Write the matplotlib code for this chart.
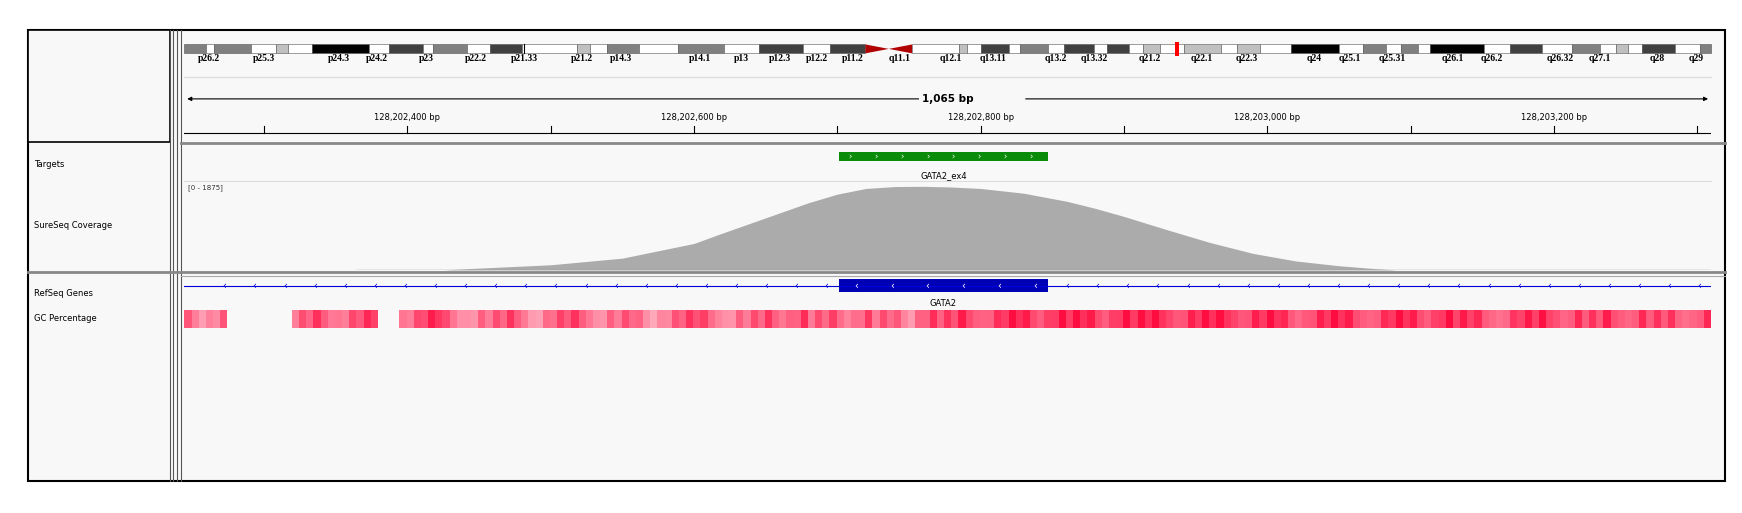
import numpy as np
import matplotlib.pyplot as plt
from matplotlib.patches import Rectangle, Polygon

W, H = 1568, 461.7   # layout units (figure is 1742x513 px)
START, END = 128202244.5, 128203309.5

# cytobands (extent along ideogram, colour)
bands = [(166, 185, '#808080'), (185, 193, 'w'), (193, 226, '#808080'), (226, 248, 'w'),
         (248, 259, '#c0c0c0'), (259, 281, 'w'), (281, 332, '#000000'), (332, 350, 'w'),
         (350, 381, '#404040'), (381, 390, 'w'), (390, 420, '#808080'), (420, 441, 'w'),
         (441, 470, '#404040'), (470, 519, 'w'), (519, 531, '#c0c0c0'), (531, 546, 'w'),
         (546, 575, '#808080'), (575, 610, 'w'), (610, 652, '#808080'), (652, 683, 'w'),
         (683, 723, '#404040'), (723, 747, 'w'), (747, 779, '#404040'),
         (821, 863, 'w'), (863, 870, '#c0c0c0'), (870, 883, 'w'), (883, 908, '#404040'),
         (908, 918, 'w'), (918, 943, '#808080'), (943, 958, 'w'), (958, 985, '#404040'),
         (985, 996, 'w'), (996, 1016, '#404040'), (1016, 1029, 'w'), (1029, 1044, '#c0c0c0'),
         (1044, 1066, 'w'), (1066, 1099, '#c0c0c0'), (1099, 1113, 'w'), (1113, 1134, '#c0c0c0'),
         (1134, 1162, 'w'), (1162, 1205, '#000000'), (1205, 1227, 'w'), (1227, 1248, '#808080'),
         (1248, 1261, 'w'), (1261, 1276, '#808080'), (1276, 1287, 'w'), (1287, 1336, '#000000'),
         (1336, 1359, 'w'), (1359, 1388, '#404040'), (1388, 1415, 'w'), (1415, 1440, '#808080'),
         (1440, 1455, 'w'), (1455, 1465, '#c0c0c0'), (1465, 1478, 'w'), (1478, 1508, '#404040'),
         (1508, 1530, 'w'), (1530, 1540, '#808080')]
band_labels = ['p26.2', 'p25.3', 'p24.3', 'p24.2', 'p23', 'p22.2', 'p21.33', 'p21.2', 'p14.3',
               'p14.1', 'p13', 'p12.3', 'p12.2', 'p11.2', 'q11.1', 'q12.1', 'q13.11', 'q13.2',
               'q13.32', 'q21.2', 'q22.1', 'q22.3', 'q24', 'q25.1', 'q25.31', 'q26.1', 'q26.2',
               'q26.32', 'q27.1', 'q28', 'q29']
band_label_x = [188, 238, 305, 339, 384, 428, 472, 524, 559, 630, 667, 702, 735, 768, 810, 856,
                894, 950, 985, 1035, 1082, 1122, 1183, 1215, 1253, 1308, 1343, 1404, 1440, 1492, 1527]

ruler_ticks = [128202400, 128202600, 128202800, 128203000, 128203200]

# coverage (bp position, depth)
cov_pos = [128202244, 128202425, 128202450, 128202500, 128202550, 128202600, 128202620, 128202650,
           128202680, 128202700, 128202720, 128202740, 128202760, 128202780, 128202800, 128202830,
           128202860, 128202880, 128202900, 128202930, 128202960, 128202990, 128203020, 128203050,
           128203075, 128203090, 128203309]
cov_val = [0, 0, 40, 110, 250, 560, 780, 1100, 1420, 1600, 1720, 1760, 1765, 1750, 1720, 1620,
           1450, 1300, 1130, 850, 580, 350, 190, 90, 30, 0, 0]
cov_max = 1875

target_start, target_end = 128202701, 128202847
gene_start, gene_end = 128202701, 128202847

# GC percentage per 15 bp window (0 = no data)
gc_vals = [0.55, 0.6, 0.0, 0.0, 0.0, 0.6, 0.7, 0.65, 0.75, 0.0, 0.65, 0.8, 0.6, 0.55,
           0.6, 0.7, 0.5, 0.65, 0.7, 0.55, 0.6, 0.5, 0.6, 0.7, 0.65, 0.55, 0.6, 0.7, 0.75, 0.6,
           0.65, 0.7, 0.6, 0.55, 0.75, 0.7, 0.8, 0.75, 0.85, 0.8, 0.9, 0.85, 0.8, 0.9, 0.85, 0.9,
           0.8, 0.85, 0.9, 0.8, 0.85, 0.75, 0.8, 0.85, 0.8, 0.75, 0.85, 0.8, 0.9, 0.8, 0.75, 0.7,
           0.8, 0.85, 0.75, 0.7, 0.8, 0.75, 0.7, 0.72, 0.75]

fig = plt.figure(figsize=(17.42, 5.13), dpi=100)
fig.patch.set_facecolor('white')
ax = fig.add_axes([0, 0, 1, 1])
ax.set_xlim(0, W)
ax.set_ylim(H, 0)
ax.axis('off')


def sub_axes(x0, y0, x1, y1):
    a = fig.add_axes([x0 / W, 1 - y1 / H, (x1 - x0) / W, (y1 - y0) / H])
    a.axis('off')
    return a


# panel backgrounds and frames
ax.add_patch(Rectangle((25, 27), 1528, 406, fc='#f8f8f8', ec='black', lw=1.5))
ax.add_patch(Rectangle((25, 27), 128, 101, fc='#f8f8f8', ec='black', lw=1.2))
for x in (153, 156, 159, 163):
    ax.plot([x, x], [27, 433], color='#555555', lw=0.8)
ax.plot([163, 1553], [129, 129], color='#888888', lw=2)
ax.plot([25, 1553], [245, 245], color='#888888', lw=2)
ax.plot([163, 1553], [248, 248], color='#aaaaaa', lw=0.8)

# ideogram
for x0, x1, c in bands:
    ax.add_patch(Rectangle((x0, 40), x1 - x0, 8, fc=c, ec='#555555', lw=0.4))
ax.plot([472, 472], [40, 48], color='black', lw=0.8)
ax.add_patch(Polygon([(779, 40), (779, 48), (800, 44)], fc='#b00000', ec='none'))
ax.add_patch(Polygon([(821, 40), (821, 48), (800, 44)], fc='#b00000', ec='none'))
ax.add_patch(Rectangle((1058, 38), 3.5, 12, fc='red', ec='none'))
for lab, x in zip(band_labels, band_label_x):
    ax.text(x, 53, lab, ha='center', va='center', fontsize=7, fontweight='bold',
            family='Liberation Serif')
ax.plot([166, 1540], [69, 69], color='#dddddd', lw=1)

# ruler
rax = sub_axes(166, 80, 1540, 128)
rax.set_xlim(START, END)
rax.set_ylim(48, 0)
rax.annotate('', xy=(START, 9), xytext=(START + 540, 9),
             arrowprops=dict(arrowstyle='-|>', color='black', lw=0.8, mutation_scale=6))
rax.annotate('', xy=(END, 9), xytext=(END - 480, 9),
             arrowprops=dict(arrowstyle='-|>', color='black', lw=0.8, mutation_scale=6))
rax.text((START + END) / 2, 9, '1,065 bp', ha='center', va='center', fontsize=7.5,
         fontweight='bold', bbox=dict(fc='#f8f8f8', ec='none', pad=2))
for t in np.arange(128202300, END, 100):
    rax.plot([t, t], [33, 40], color='black', lw=0.8)
for t in ruler_ticks:
    rax.text(t, 26, f'{t:,} bp', ha='center', va='center', fontsize=6)
rax.plot([START, END], [40, 40], color='black', lw=0.8)

# track names
ax.text(31, 148, 'Targets', fontsize=6, va='center')
ax.text(31, 203, 'SureSeq Coverage', fontsize=6, va='center')
ax.text(31, 264, 'RefSeq Genes', fontsize=6, va='center')
ax.text(31, 287, 'GC Percentage', fontsize=6, va='center')

# targets
tax = sub_axes(166, 133, 1540, 163)
tax.set_xlim(START, END)
tax.set_ylim(30, 0)
tax.add_patch(Rectangle((target_start, 4), target_end - target_start, 8, fc='#0a8c0a', ec='none'))
for p in np.arange(target_start + 8, target_end, 18):
    tax.text(p, 8, '›', color='white', fontsize=6, ha='center', va='center')
tax.text((target_start + target_end) / 2, 25, 'GATA2_ex4', fontsize=6, ha='center', va='center')
ax.plot([166, 1540], [163, 163], color='#dddddd', lw=0.8)

# coverage
cax = sub_axes(166, 163, 1540, 243)
cax.set_xlim(START, END)
cax.set_ylim(0, cov_max)
cax.fill_between(cov_pos, cov_val, color='#ababab', lw=0)
cax.plot([START + 120, END], [0, 0], color='#999999', lw=1)
ax.text(169, 169, '[0 - 1875]', fontsize=5, va='center', color='#333333')

# refseq genes
gax = sub_axes(166, 250, 1540, 276)
gax.set_xlim(START, END)
gax.set_ylim(26, 0)
gax.plot([START, END], [7, 7], color='#0000dd', lw=0.8)
for p in np.arange(START + 28, END, 21):
    if gene_start < p < gene_end:
        continue
    gax.text(p, 7, '‹', color='#0000dd', fontsize=7, ha='center', va='center')
gax.add_patch(Rectangle((gene_start, 1.5), gene_end - gene_start, 11, fc='#0000b4', ec='none'))
for p in np.arange(gene_start + 12, gene_end, 25):
    gax.text(p, 7, '‹', color='white', fontsize=7, ha='center', va='center')
gax.text((gene_start + gene_end) / 2, 23, 'GATA2', fontsize=6, ha='center', va='center')

# GC percentage
hax = sub_axes(166, 279, 1540, 295)
hax.set_xlim(START, END)
hax.set_ylim(0, 1)
step = (END - START) / len(gc_vals)
for i, v in enumerate(gc_vals):
    if v <= 0:
        continue
    for j in range(3):
        vv = min(1, max(0.2, v + 0.15 * np.cos(i * 2.1 + j * 1.7)))
        col = (1.0, 1 - 0.95 * vv, 1 - 0.75 * vv)
        hax.add_patch(Rectangle((START + i * step + j * step / 3, 0), step / 3, 1, fc=col, ec='none'))

fig.savefig('out.png', dpi=100)
